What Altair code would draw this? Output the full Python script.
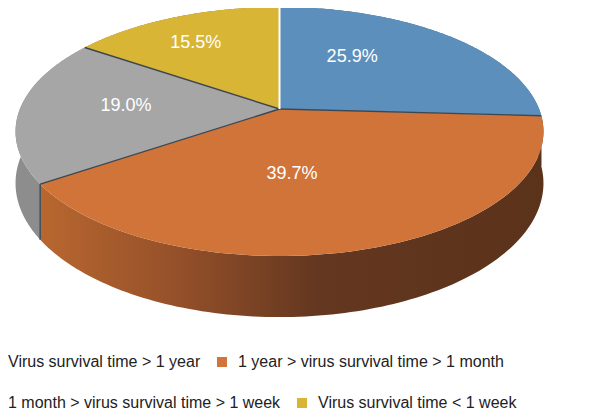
import altair as alt
import pandas as pd

# ---- data ----
categories = [
    "Virus survival time > 1 year",
    "1 year > virus survival time > 1 month",
    "1 month > virus survival time > 1 week",
    "Virus survival time < 1 week",
]
shares = [25.9, 39.7, 19.0, 15.5]

# ---- style ----
top_colors = ["#5d8fbd", "#d07439", "#a6a6a6", "#d9b535"]
wall_colors = ["#41678c", "#8a4a22", "#8d8d8d", "#9c8126"]
orange_wall = alt.Gradient(
    gradient="linear",
    stops=[
        alt.GradientStop(color="#b8672f", offset=0),
        alt.GradientStop(color="#98522a", offset=0.25),
        alt.GradientStop(color="#643720", offset=0.55),
        alt.GradientStop(color="#5b321a", offset=1),
    ],
    x1=0, x2=1, y1=0, y2=0,
)

df = pd.DataFrame({"category": categories, "share": shares, "rank": list(range(len(shares)))})

# ---- layout (screen pixels) ----
W, H = 587, 405
CX, CY, A, B, P, D = 279.5, 109.0, 259.6, 120.4, 0.181, 50.0
N = 120
LX, LRX, LY, LRY = 257.0, 131.0, 106.0, 71.0

xs = alt.Scale(domain=[8, 8 + W], nice=False, zero=False)
ys = alt.Scale(domain=[8 + H, 8], nice=False, zero=False)

def ex(th):
    return f"{CX} + {A}*sin({th})/(1+{P}*cos({th}))"

def ey(th):
    return f"{CY} - {B}*cos({th})/(1+{P}*cos({th}))"

def dep(th):
    return f"{D}/(1+{P}*cos({th}))"

base = (
    alt.Chart(df)
    .transform_window(cum="sum(share)", sort=[alt.SortField("rank")], frame=[None, 0])
    .transform_joinaggregate(total="sum(share)")
    .transform_calculate(
        t0="2*PI*(datum.cum - datum.share)/datum.total",
        t1="2*PI*datum.cum/datum.total",
    )
)

# top faces (two layers -> two legend rows)
def faces(ranks, legend_y):
    return (
        base.transform_filter(alt.FieldOneOfPredicate(field="rank", oneOf=ranks))
        .transform_calculate(idx=f"sequence(0, {N + 2})")
        .transform_flatten(["idx"])
        .transform_calculate(th=f"datum.t0 + (datum.t1 - datum.t0)*(datum.idx - 1)/{N}")
        .transform_calculate(
            px=f"datum.idx == 0 ? {CX} : " + ex("datum.th"),
            py=f"datum.idx == 0 ? {CY} : " + ey("datum.th"),
        )
        .mark_line(interpolate="linear-closed", filled=True, strokeWidth=0, opacity=1)
        .encode(
            x=alt.X("px:Q", scale=xs, axis=None),
            y=alt.Y("py:Q", scale=ys, axis=None),
            color=alt.Color(
                "category:N",
                scale=alt.Scale(
                    domain=[categories[r] for r in ranks],
                    range=[top_colors[r] for r in ranks],
                ),
                legend=alt.Legend(
                    title=None,
                    orient="none",
                    direction="horizontal",
                    legendX=-24,
                    legendY=legend_y,
                    symbolType="square",
                    symbolSize=100,
                    symbolStrokeWidth=0,
                    labelFont="Liberation Sans",
                    labelFontSize=16,
                    labelColor="#222222",
                    labelLimit=0,
                    labelOffset=8,
                    columnPadding=13,
                    padding=0,
                ),
            ),
            detail="category:N",
            order=alt.Order("idx:Q"),
        )
    )

# side walls
def wall(rank, fill):
    return (
        base.transform_filter(f"datum.rank == {rank}")
        .transform_calculate(idx=f"sequence(0, {2 * N + 2})")
        .transform_flatten(["idx"])
        .transform_calculate(j=f"datum.idx <= {N} ? datum.idx : {2 * N + 1} - datum.idx")
        .transform_calculate(th=f"datum.t0 + (datum.t1 - datum.t0)*datum.j/{N}")
        .transform_calculate(
            px=ex("datum.th"),
            py=f"datum.idx <= {N} ? " + ey("datum.th") + " : " + ey("datum.th") + " + " + dep("datum.th"),
        )
        .mark_line(interpolate="linear-closed", filled=True, fill=fill, strokeWidth=0, opacity=1)
        .encode(
            x=alt.X("px:Q", scale=xs, axis=None),
            y=alt.Y("py:Q", scale=ys, axis=None),
            order=alt.Order("idx:Q"),
        )
    )

walls = [wall(3, wall_colors[3]), wall(0, wall_colors[0]), wall(2, wall_colors[2]), wall(1, orange_wall)]

# separators on the top face
sep = base.transform_calculate(
    ax=f"{CX}", ay=f"{CY}", bx=ex("datum.t0"), by=ey("datum.t0")
)
sep_dark = sep.transform_filter("datum.t0 > 0").mark_rule(color="#3c4752", strokeWidth=1.4).encode(
    x=alt.X("ax:Q", scale=xs, axis=None), y=alt.Y("ay:Q", scale=ys, axis=None), x2="bx:Q", y2="by:Q"
)
sep_white = sep.transform_filter("datum.t0 == 0").mark_rule(color="#ffffff", strokeWidth=2).encode(
    x=alt.X("ax:Q", scale=xs, axis=None), y=alt.Y("ay:Q", scale=ys, axis=None), x2="bx:Q", y2="by:Q"
)

# vertical wall edge at the front-left end of a slice
edge = (
    base.transform_filter("datum.t1 > PI && datum.t1 < 1.5*PI")
    .transform_calculate(
        ex1=ex("datum.t1"), ey1=ey("datum.t1"), ey2=ey("datum.t1") + " + " + dep("datum.t1")
    )
    .mark_rule(color="#46525c", strokeWidth=1.6)
    .encode(x=alt.X("ex1:Q", scale=xs, axis=None), y=alt.Y("ey1:Q", scale=ys, axis=None), y2="ey2:Q")
)

# percentage labels
labels = (
    base.transform_calculate(mid="(datum.t0 + datum.t1)/2")
    .transform_calculate(
        lx=f"{LX} + {LRX}*sin(datum.mid)",
        ly=f"{LY} - {LRY}*cos(datum.mid)",
        lab="format(datum.share, '.1f') + '%'",
    )
    .mark_text(font="Liberation Sans", fontSize=18, color="#ffffff", align="center", baseline="middle")
    .encode(x=alt.X("lx:Q", scale=xs, axis=None), y=alt.Y("ly:Q", scale=ys, axis=None), text="lab:N")
)

chart = (
    alt.layer(*walls, faces([0, 1], 346), faces([2, 3], 387), edge, sep_dark, sep_white, labels)
    .resolve_scale(color="independent")
    .properties(width=W, height=H, padding=0, autosize=alt.AutoSizeParams(type="none"), background="#ffffff")
    .configure_view(stroke=None)
)

chart.save("out.html", embed_options={"renderer": "svg", "actions": False})
